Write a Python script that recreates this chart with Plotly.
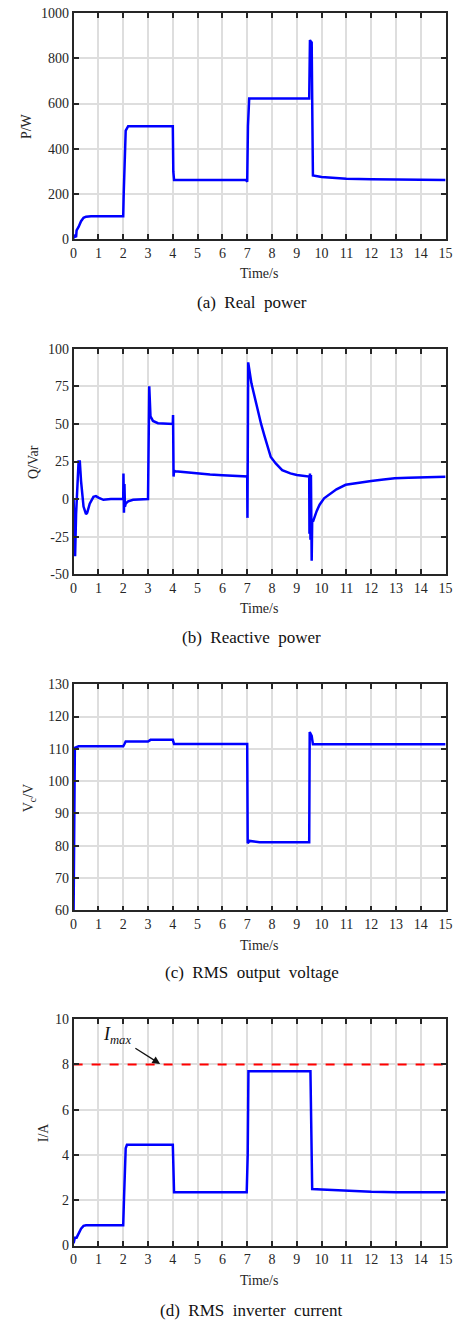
import plotly.graph_objects as go

# ---------------- data ----------------
t_p = [0, 0.05, 0.1, 0.12, 0.2, 0.3, 0.4, 0.5, 0.7, 2.0, 2.02, 2.1, 2.2, 3.0, 4.0, 4.02, 4.05,
       6.95, 7.0, 7.03, 7.08, 9.5, 9.53, 9.56, 9.6, 9.63, 9.65, 10, 11, 12, 13, 14, 15]
p_w = [5, 15, 10, 40, 55, 80, 95, 100, 102, 102, 200, 480, 500, 500, 500, 300, 262,
       262, 255, 500, 622, 622, 880, 875, 870, 500, 282, 275, 268, 265, 263, 262, 262]

t_q = [0, 0.03, 0.06, 0.1, 0.15, 0.2, 0.25, 0.3, 0.4, 0.5, 0.55, 0.65, 0.8, 0.9, 1.0, 1.2, 1.5,
       2.0, 2.01, 2.03, 2.05, 2.07, 2.1, 2.2, 2.4, 2.7, 3.0, 3.05, 3.1, 3.2, 3.4, 4.0, 4.01,
       4.03, 4.05, 4.1, 4.5, 5.0, 5.5, 6.0, 6.5, 7.0, 7.01, 7.04, 7.17, 7.30, 7.43, 7.56, 7.69,
       7.82, 7.95, 8.15, 8.41, 8.74, 9.0, 9.5, 9.51, 9.53,
       9.55, 9.57, 9.6, 9.62, 9.66, 9.8, 9.92, 10.1, 10.3, 10.6, 10.97, 11.5, 12.0, 12.5,
       12.95, 13.5, 14.0, 15.0]
q_var = [0, -38, -38, -10, 15, 25, 25, 12, -5, -10, -9, -3, 1.5, 2, 1, -0.5, 0,
         0, 17, -9, 10, -5, -3, -1.5, -0.5, 0, 0, 75, 55, 52, 50.5, 50, 56,
         15, 19, 18.5, 17.8, 17, 16.3, 15.8, 15.4, 15, -12.5, 91, 77, 67.6, 58.8, 50, 42.4,
         34.7, 28, 23.7, 19.3, 17.1, 16, 15, -23, 17,
         -27, 16, -41, -15, -14.7, -8, -3.7, 0.5, 2.9, 6.5, 9.5, 11, 12.1, 13,
         13.8, 14.2, 14.5, 14.9]

t_v = [0, 0.02, 0.05, 0.2, 2.0, 2.05, 2.1, 3.0, 3.1, 4.0, 4.05, 7.0, 7.02, 7.1, 7.5, 9.5,
       9.52, 9.6, 9.65, 15]
v_c = [60, 110, 110.3, 110.8, 110.8, 111.5, 112.3, 112.3, 112.8, 112.8, 111.5, 111.5, 80.8,
       81.5, 81.1, 81.1, 115.2, 114, 111.4, 111.4]

t_i = [0, 0.05, 0.12, 0.2, 0.3, 0.4, 0.5, 0.7, 2.0, 2.03, 2.1, 2.15, 3.0, 4.0, 4.05, 6.98,
       7.02, 7.05, 9.55, 9.6, 9.62, 10, 11, 12, 13, 15]
i_a = [0.1, 0.35, 0.35, 0.55, 0.75, 0.87, 0.9, 0.9, 0.9, 2.0, 4.3, 4.45, 4.45, 4.45, 2.35, 2.35,
       4.0, 7.7, 7.7, 5.0, 2.5, 2.48, 2.42, 2.38, 2.36, 2.36]

i_max = 8
x_ticks = list(range(0, 16))

# ---------------- styling ----------------
FONT = "Liberation Serif, Times New Roman, serif"
TXT = "#262626"
BLUE = "#0000FF"
W, H = 465, 1331


def fx(px):  # page x pixel -> paper x
    return px / W


def fy(py):  # page y pixel -> paper y
    return 1 - py / H


x0, x1 = fx(71.3), fx(452.3)
panels = [  # (top px, bottom px)
    (6.0, 235.0),
    (345.7, 573.7),
    (685.0, 913.7),
    (1023.7, 1252.7),
]

fig = go.Figure()

series = [(t_p, p_w), (t_q, q_var), (t_v, v_c), (t_i, i_a)]
for k, (tx, ty) in enumerate(series):
    ax = "" if k == 0 else str(k + 1)
    fig.add_trace(go.Scatter(x=tx, y=ty, mode="lines", line=dict(color=BLUE, width=2.5),
                             xaxis="x" + ax, yaxis="y" + ax, showlegend=False,
                             hoverinfo="skip"))

# Imax dashed line
fig.add_trace(go.Scatter(x=[0, 15], y=[i_max, i_max], mode="lines",
                         line=dict(color="#FF0000", width=2, dash="dash"),
                         xaxis="x4", yaxis="y4", showlegend=False, hoverinfo="skip"))

yranges = [[0, 1000], [-50, 100], [60, 130], [0, 10]]
yticks = [
    ([0, 200, 400, 600, 800, 1000], ["0", "200", "400", "600", "800", "1000"]),
    ([-50, -25, 0, 25, 50, 75, 100], ["-50", "-25", "0", "25", "50", "75", "100"]),
    ([60, 70, 80, 90, 100, 110, 120, 130], ["60", "70", "80", "90", "100", "110", "120", "130"]),
    ([0, 2, 4, 6, 8, 10], ["0", "2", "4", "6", "8", "10"]),
]

axis_common = dict(
    showline=True, linecolor="#262626", linewidth=1.8, mirror="ticks",
    ticks="inside", ticklen=5, tickwidth=1.5, tickcolor="#262626",
    showgrid=True, gridcolor="#DEDEDE", gridwidth=1.5, zeroline=False,
    ticklabeloverflow="allow",
    tickfont=dict(family=FONT, size=14, color=TXT),
)

layout = {}
for k, (top, bot) in enumerate(panels):
    ax = "" if k == 0 else str(k + 1)
    yd = [fy(bot), fy(top)]
    layout["xaxis" + ax] = dict(
        axis_common, domain=[x0, x1], range=[0, 15], tickvals=x_ticks,
        ticktext=[str(v) for v in x_ticks], anchor="y" + ax,
    )
    layout["yaxis" + ax] = dict(
        axis_common, domain=yd, range=yranges[k], tickvals=yticks[k][0],
        ticktext=yticks[k][1], anchor="x" + ax,
    )

fig.update_layout(**layout)

annotations = []

# y-axis titles
ytitles = [
    ("P/W", 23, 120),
    ("Q/Var", 31, 460),
    ("V<sub>c</sub>/V", 27, 800),
    ("I/A", 40, 1138),
]
for txt, xp, yp in ytitles:
    annotations.append(dict(text=txt, x=fx(xp), y=fy(yp), xref="paper", yref="paper",
                            showarrow=False, textangle=-90, xanchor="center", yanchor="middle",
                            font=dict(family=FONT, size=14, color=TXT)))

# x-axis titles
for yp in [270, 608, 949, 1288]:
    annotations.append(dict(text="Time/s", x=fx(261), y=fy(yp), xref="paper", yref="paper",
                            showarrow=False, xanchor="center", yanchor="middle",
                            font=dict(family=FONT, size=14, color=TXT)))

# captions
captions = [("(a)  Real  power", 299), ("(b)  Reactive  power", 638),
            ("(c)  RMS  output  voltage", 977), ("(d)  RMS  inverter  current", 1318)]
for txt, yp in captions:
    annotations.append(dict(text=txt.replace("  ", "\u2002"), x=fx(254), y=fy(yp),
                            xref="paper", yref="paper", showarrow=False, xanchor="center",
                            yanchor="middle", font=dict(family=FONT, size=17, color="#111111")))

# Imax label
annotations.append(dict(text="<i>I</i><sub><i>max</i></sub>", x=1.1, y=9.3, xref="x4", yref="y4",
                        showarrow=False, xanchor="left", yanchor="middle",
                        font=dict(family=FONT, size=18, color="#111111")))
# arrow
annotations.append(dict(text="", x=3.49, y=8.02, xref="x4", yref="y4",
                        ax=2.43, ay=8.76, axref="x4", ayref="y4", showarrow=True,
                        arrowhead=2, arrowsize=1.2, arrowwidth=1.3, arrowcolor="#111111"))

fig.update_layout(
    width=W, height=H, margin=dict(l=0, r=0, t=0, b=0),
    paper_bgcolor="white", plot_bgcolor="white",
    font=dict(family=FONT, color=TXT),
    annotations=annotations,
    hovermode=False,
)

fig.write_html("out.html", config={"displayModeBar": False},
               post_script="document.body.style.margin='0';")
